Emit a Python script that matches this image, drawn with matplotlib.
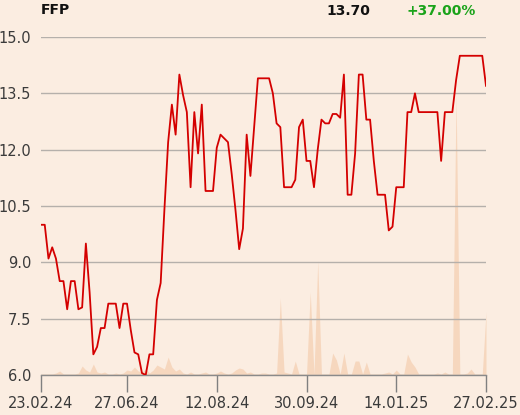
import matplotlib
matplotlib.use("Agg")
import matplotlib.pyplot as plt
import numpy as np

ticker = "FFP"
last_price = "13.70"
change = "+37.00%"

prices = [
    10.0, 10.0, 9.1, 9.4, 9.1, 8.5, 8.5, 7.75, 8.5, 8.5,
    7.75, 7.8, 9.5, 8.2, 6.55, 6.75, 7.25, 7.25, 7.9, 7.9,
    7.9, 7.25, 7.9, 7.9, 7.2, 6.6, 6.55, 6.05, 6.0, 6.55,
    6.55, 8.0, 8.45, 10.4, 12.2, 13.2, 12.4, 14.0, 13.45, 13.0,
    11.0, 13.0, 11.9, 13.2, 10.9, 10.9, 10.9, 12.05, 12.4, 12.3,
    12.2, 11.35, 10.4, 9.35, 9.9, 12.4, 11.3, 12.6, 13.9, 13.9,
    13.9, 13.9, 13.5, 12.7, 12.6, 11.0, 11.0, 11.0, 11.2, 12.6,
    12.8, 11.7, 11.7, 11.0, 12.0, 12.8, 12.7, 12.7, 12.95, 12.95,
    12.85, 14.0, 10.8, 10.8, 11.9, 14.0, 14.0, 12.8, 12.8, 11.7,
    10.8, 10.8, 10.8, 9.85, 9.95, 11.0, 11.0, 11.0, 13.0, 13.0,
    13.5, 13.0, 13.0, 13.0, 13.0, 13.0, 13.0, 11.7, 13.0, 13.0,
    13.0, 13.85, 14.5, 14.5, 14.5, 14.5, 14.5, 14.5, 14.5, 13.7,
]

volume = [
    1, 1, 1, 1, 2, 4, 1, 1, 1, 1,
    2, 9, 5, 3, 11, 3, 2, 3, 1, 1,
    2, 1, 2, 5, 4, 8, 4, 3, 6, 2,
    5, 10, 8, 6, 18, 8, 4, 6, 2, 1,
    3, 1, 1, 2, 3, 1, 1, 2, 4, 2,
    1, 2, 5, 7, 6, 2, 3, 1, 1, 2,
    2, 1, 1, 2, 77, 3, 2, 1, 14, 1,
    1, 1, 83, 1, 114, 1, 1, 1, 22, 15,
    1, 22, 1, 1, 14, 14, 1, 13, 1, 1,
    1, 1, 2, 3, 1, 5, 1, 1, 21, 13,
    8, 1, 1, 1, 1, 1, 2, 1, 3, 1,
    1, 280, 1, 1, 2, 6, 1, 1, 1, 63,
]

tick_idx = [0, 23, 47, 71, 95, 119]
tick_labels = ["23.02.24", "27.06.24", "12.08.24", "30.09.24", "14.01.25", "27.02.25"]
y_ticks = [6.0, 7.5, 9.0, 10.5, 12.0, 13.5, 15.0]

bg = "#fbede1"
fig = plt.figure(figsize=(5.2, 4.15), dpi=100, facecolor=bg)
ax = fig.add_axes([41/520, 40/415, 445/520, 338/415])
ax.set_facecolor(bg)

x = np.arange(len(prices))

axv = ax.twinx()
axv.fill_between(x, 0, volume, color="#f6d6bd", linewidth=0, alpha=0.95)
axv.set_ylim(0, 338)
axv.set_yticks([])
for s in axv.spines.values():
    s.set_visible(False)

ax.set_zorder(axv.get_zorder() + 1)
ax.patch.set_visible(False)
axv.patch.set_visible(True)
axv.patch.set_facecolor(bg)

for yv in y_ticks:
    ax.axhline(yv, color="#b5b0ab", lw=1.0, zorder=1)
ax.plot(x, prices, color="#d40000", lw=1.3, zorder=3)

ax.set_xlim(0, len(prices) - 1)
ax.set_ylim(6.0, 15.0)
ax.set_yticks(y_ticks)
ax.set_yticklabels([f"{v:.1f}" for v in y_ticks])
ax.set_xticks(tick_idx)
ax.set_xticklabels(tick_labels)
ax.tick_params(axis="y", length=0, pad=7, labelsize=10.5, labelcolor="#3a3a3a")
ax.tick_params(axis="x", length=12, width=1, color="#808080", pad=3,
               labelsize=10.5, labelcolor="#3a3a3a")
for name, s in ax.spines.items():
    if name == "bottom":
        s.set_color("#8a8a8a")
        s.set_linewidth(1)
    else:
        s.set_visible(False)

fig.text(41/520, 1 - 10/415, ticker, fontsize=10, fontweight="bold",
         color="#111111", ha="left", va="center")
fig.text(370/520, 1 - 11/415, last_price, fontsize=10, fontweight="bold",
         color="#111111", ha="right", va="center")
fig.text(406/520, 1 - 11/415, change, fontsize=10, fontweight="bold",
         color="#1aa31a", ha="left", va="center")

fig.savefig("out.png", dpi=100, facecolor=bg)
